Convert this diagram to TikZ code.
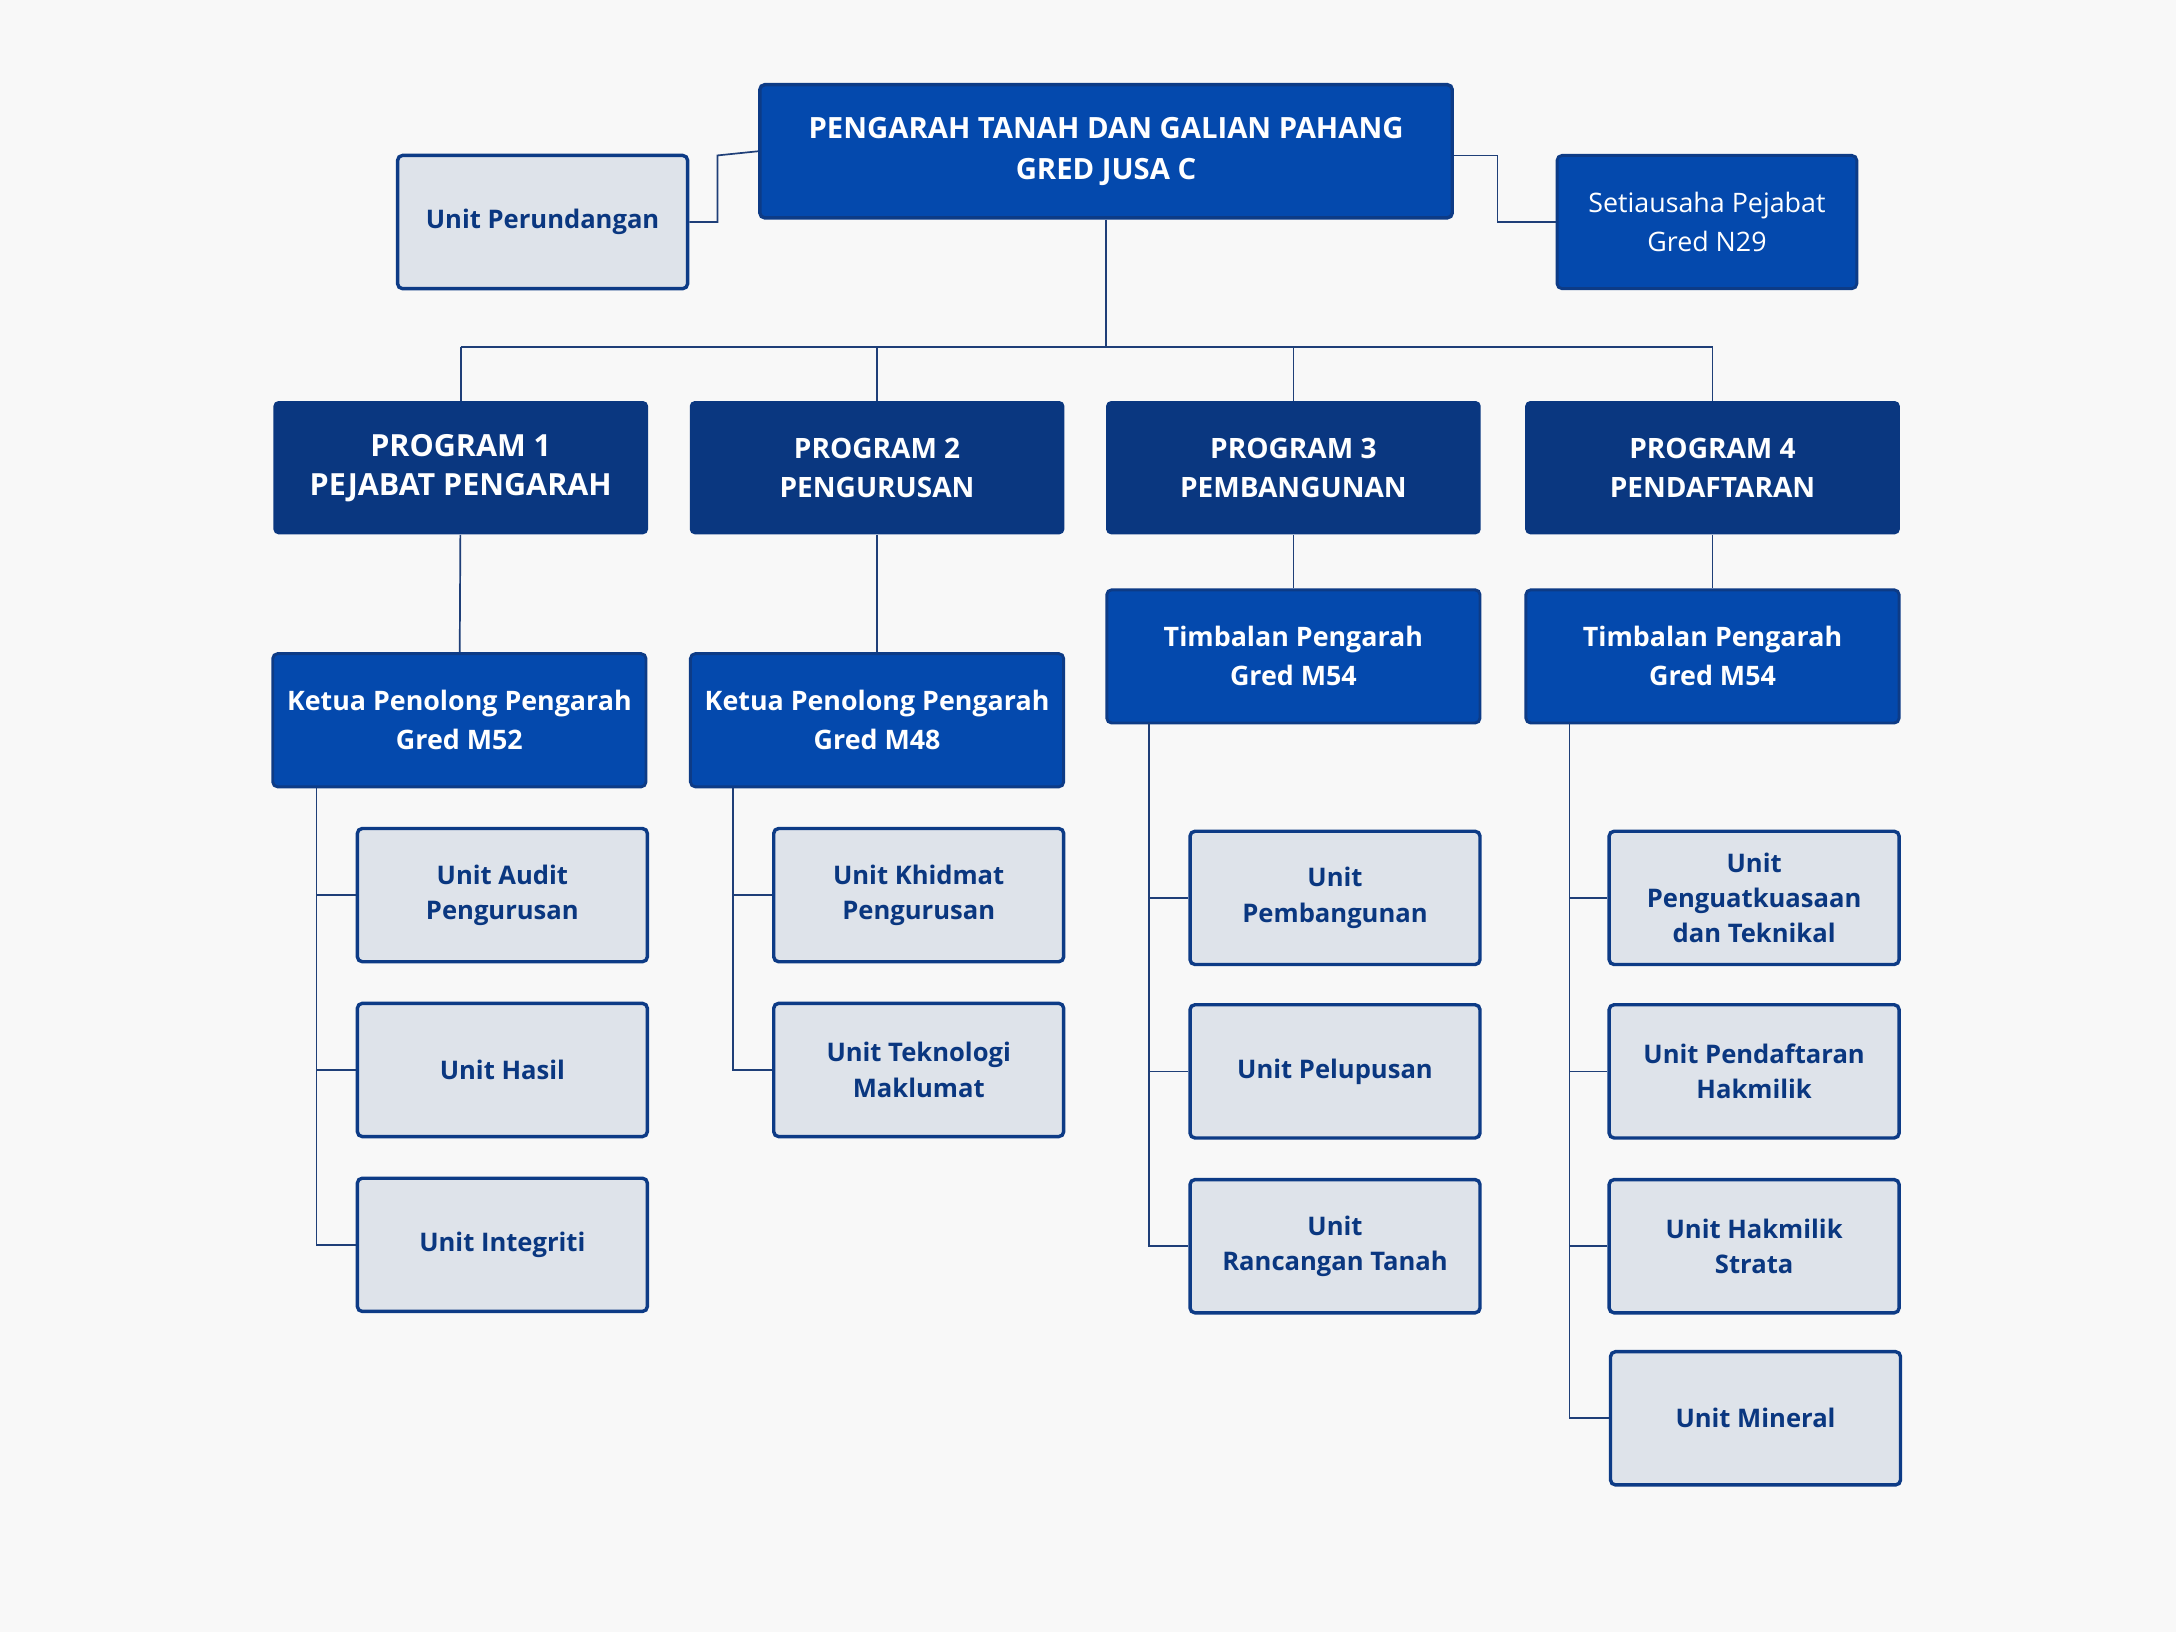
\documentclass[tikz,border=0pt]{standalone}
\usepackage{fontspec}
\setmainfont{Open Sans}
\usetikzlibrary{positioning, calc}
\definecolor{topblue}{HTML}{0449AD}
\definecolor{navy}{HTML}{0A3780}
\definecolor{unitfill}{HTML}{DEE3EA}
\definecolor{edgeblue}{HTML}{0D3B86}
\definecolor{linecol}{HTML}{1F3F78}
\definecolor{bgcol}{HTML}{F8F8F8}

\begin{document}
\begin{tikzpicture}[
    x=0.02cm, y=-0.02cm,
    topbox/.style={rectangle, rounded corners=2pt, draw=edgeblue, line width=1.4pt, fill=topblue, text=white, font=\bfseries\fontsize{12}{17}\selectfont, align=center, minimum width=9.98cm, minimum height=1.92cm},
    progbox/.style={rectangle, rounded corners=2pt, fill=navy, text=white, font=\bfseries\fontsize{11.5}{16}\selectfont, align=center, minimum width=5.4cm, minimum height=1.92cm},
    headbox/.style={rectangle, rounded corners=2pt, draw=edgeblue, line width=1.2pt, fill=topblue, text=white, font=\bfseries\fontsize{11}{16}\selectfont, align=center, minimum width=5.38cm, minimum height=1.92cm},
    unitbox/.style={rectangle, rounded corners=2pt, draw=edgeblue, line width=1.4pt, fill=unitfill, text=navy, font=\bfseries\fontsize{10.5}{14.5}\selectfont, align=center, minimum width=4.18cm, minimum height=1.92cm},
    link/.style={draw=linecol, line width=0.7pt}
]
    \fill[bgcol] (0,0) rectangle (1568,1176);

    % Top level
    \node [topbox] (TOP) at (797,109) {PENGARAH TANAH DAN GALIAN PAHANG\\GRED JUSA C};
    \node [unitbox, minimum width=4.18cm] (UP) at (391,160) {Unit Perundangan};
    \node [headbox, font=\fontsize{11}{16}\selectfont, minimum width=4.32cm] (SU) at (1230,160) {Setiausaha Pejabat\\Gred N29};

    % Programs
    \node [progbox] (P1) at (332,337) {\fontsize{12.5}{18}\selectfont PROGRAM 1\\\fontsize{12.5}{18}\selectfont PEJABAT PENGARAH};
    \node [progbox] (P2) at (632,337) {PROGRAM 2\\PENGURUSAN};
    \node [progbox] (P3) at (932,337) {PROGRAM 3\\PEMBANGUNAN};
    \node [progbox] (P4) at (1234,337) {PROGRAM 4\\PENDAFTARAN};

    % Heads
    \node [headbox] (K1) at (331,519) {Ketua Penolong Pengarah\\Gred M52};
    \node [headbox] (K2) at (632,519) {Ketua Penolong Pengarah\\Gred M48};
    \node [headbox] (T3) at (932,473) {Timbalan Pengarah\\Gred M54};
    \node [headbox] (T4) at (1234,473) {Timbalan Pengarah\\Gred M54};

    % Units
    \node [unitbox] (A1) at (362,645) {Unit Audit\\Pengurusan};
    \node [unitbox] (A2) at (362,771) {Unit Hasil};
    \node [unitbox] (A3) at (362,897) {Unit Integriti};
    \node [unitbox] (B1) at (662,645) {Unit Khidmat\\Pengurusan};
    \node [unitbox] (B2) at (662,771) {Unit Teknologi\\Maklumat};
    \node [unitbox] (C1) at (962,647) {Unit\\Pembangunan};
    \node [unitbox] (C2) at (962,772) {Unit Pelupusan};
    \node [unitbox] (C3) at (962,898) {Unit\\Rancangan Tanah};
    \node [unitbox] (D1) at (1264,647) {Unit\\Penguatkuasaan\\dan Teknikal};
    \node [unitbox] (D2) at (1264,772) {Unit Pendaftaran\\Hakmilik};
    \node [unitbox] (D3) at (1264,898) {Unit Hakmilik\\Strata};
    \node [unitbox] (D4) at (1265,1022) {Unit Mineral};

    % Side links
    \draw [link] ([yshift=0.06cm]TOP.north west |- 0,112) -- (517,112) -- (517,160) -- (UP.east);
    \draw [link] (TOP.east |- 0,112) -- (1079,112) -- (1079,160) -- (SU.west);

    % Program bus
    \coordinate (bus) at (797,250);
    \draw [link] (TOP.south) -- (bus);
    \draw [link] (P1.north |- bus) -- (P4.north |- bus);
    \foreach \p in {P1,P2,P3,P4} \draw [link] (\p.north |- bus) -- (\p.north);
    \draw [link] (P1) -- (K1);
    \draw [link] (P2) -- (K2);
    \draw [link] (P3) -- (T3);
    \draw [link] (P4) -- (T4);

    % Unit branches
    \draw [link] (228,568) |- (A3.west);
    \foreach \u in {A1,A2} \draw [link] (228,0 |- \u.west) -- (\u.west);
    \draw [link] (528,568) |- (B2.west);
    \draw [link] (528,0 |- B1.west) -- (B1.west);
    \draw [link] (828,521) |- (C3.west);
    \foreach \u in {C1,C2} \draw [link] (828,0 |- \u.west) -- (\u.west);
    \draw [link] (1131,521) |- (D4.west);
    \foreach \u in {D1,D2,D3} \draw [link] (1131,0 |- \u.west) -- (\u.west);
\end{tikzpicture}
\end{document}
